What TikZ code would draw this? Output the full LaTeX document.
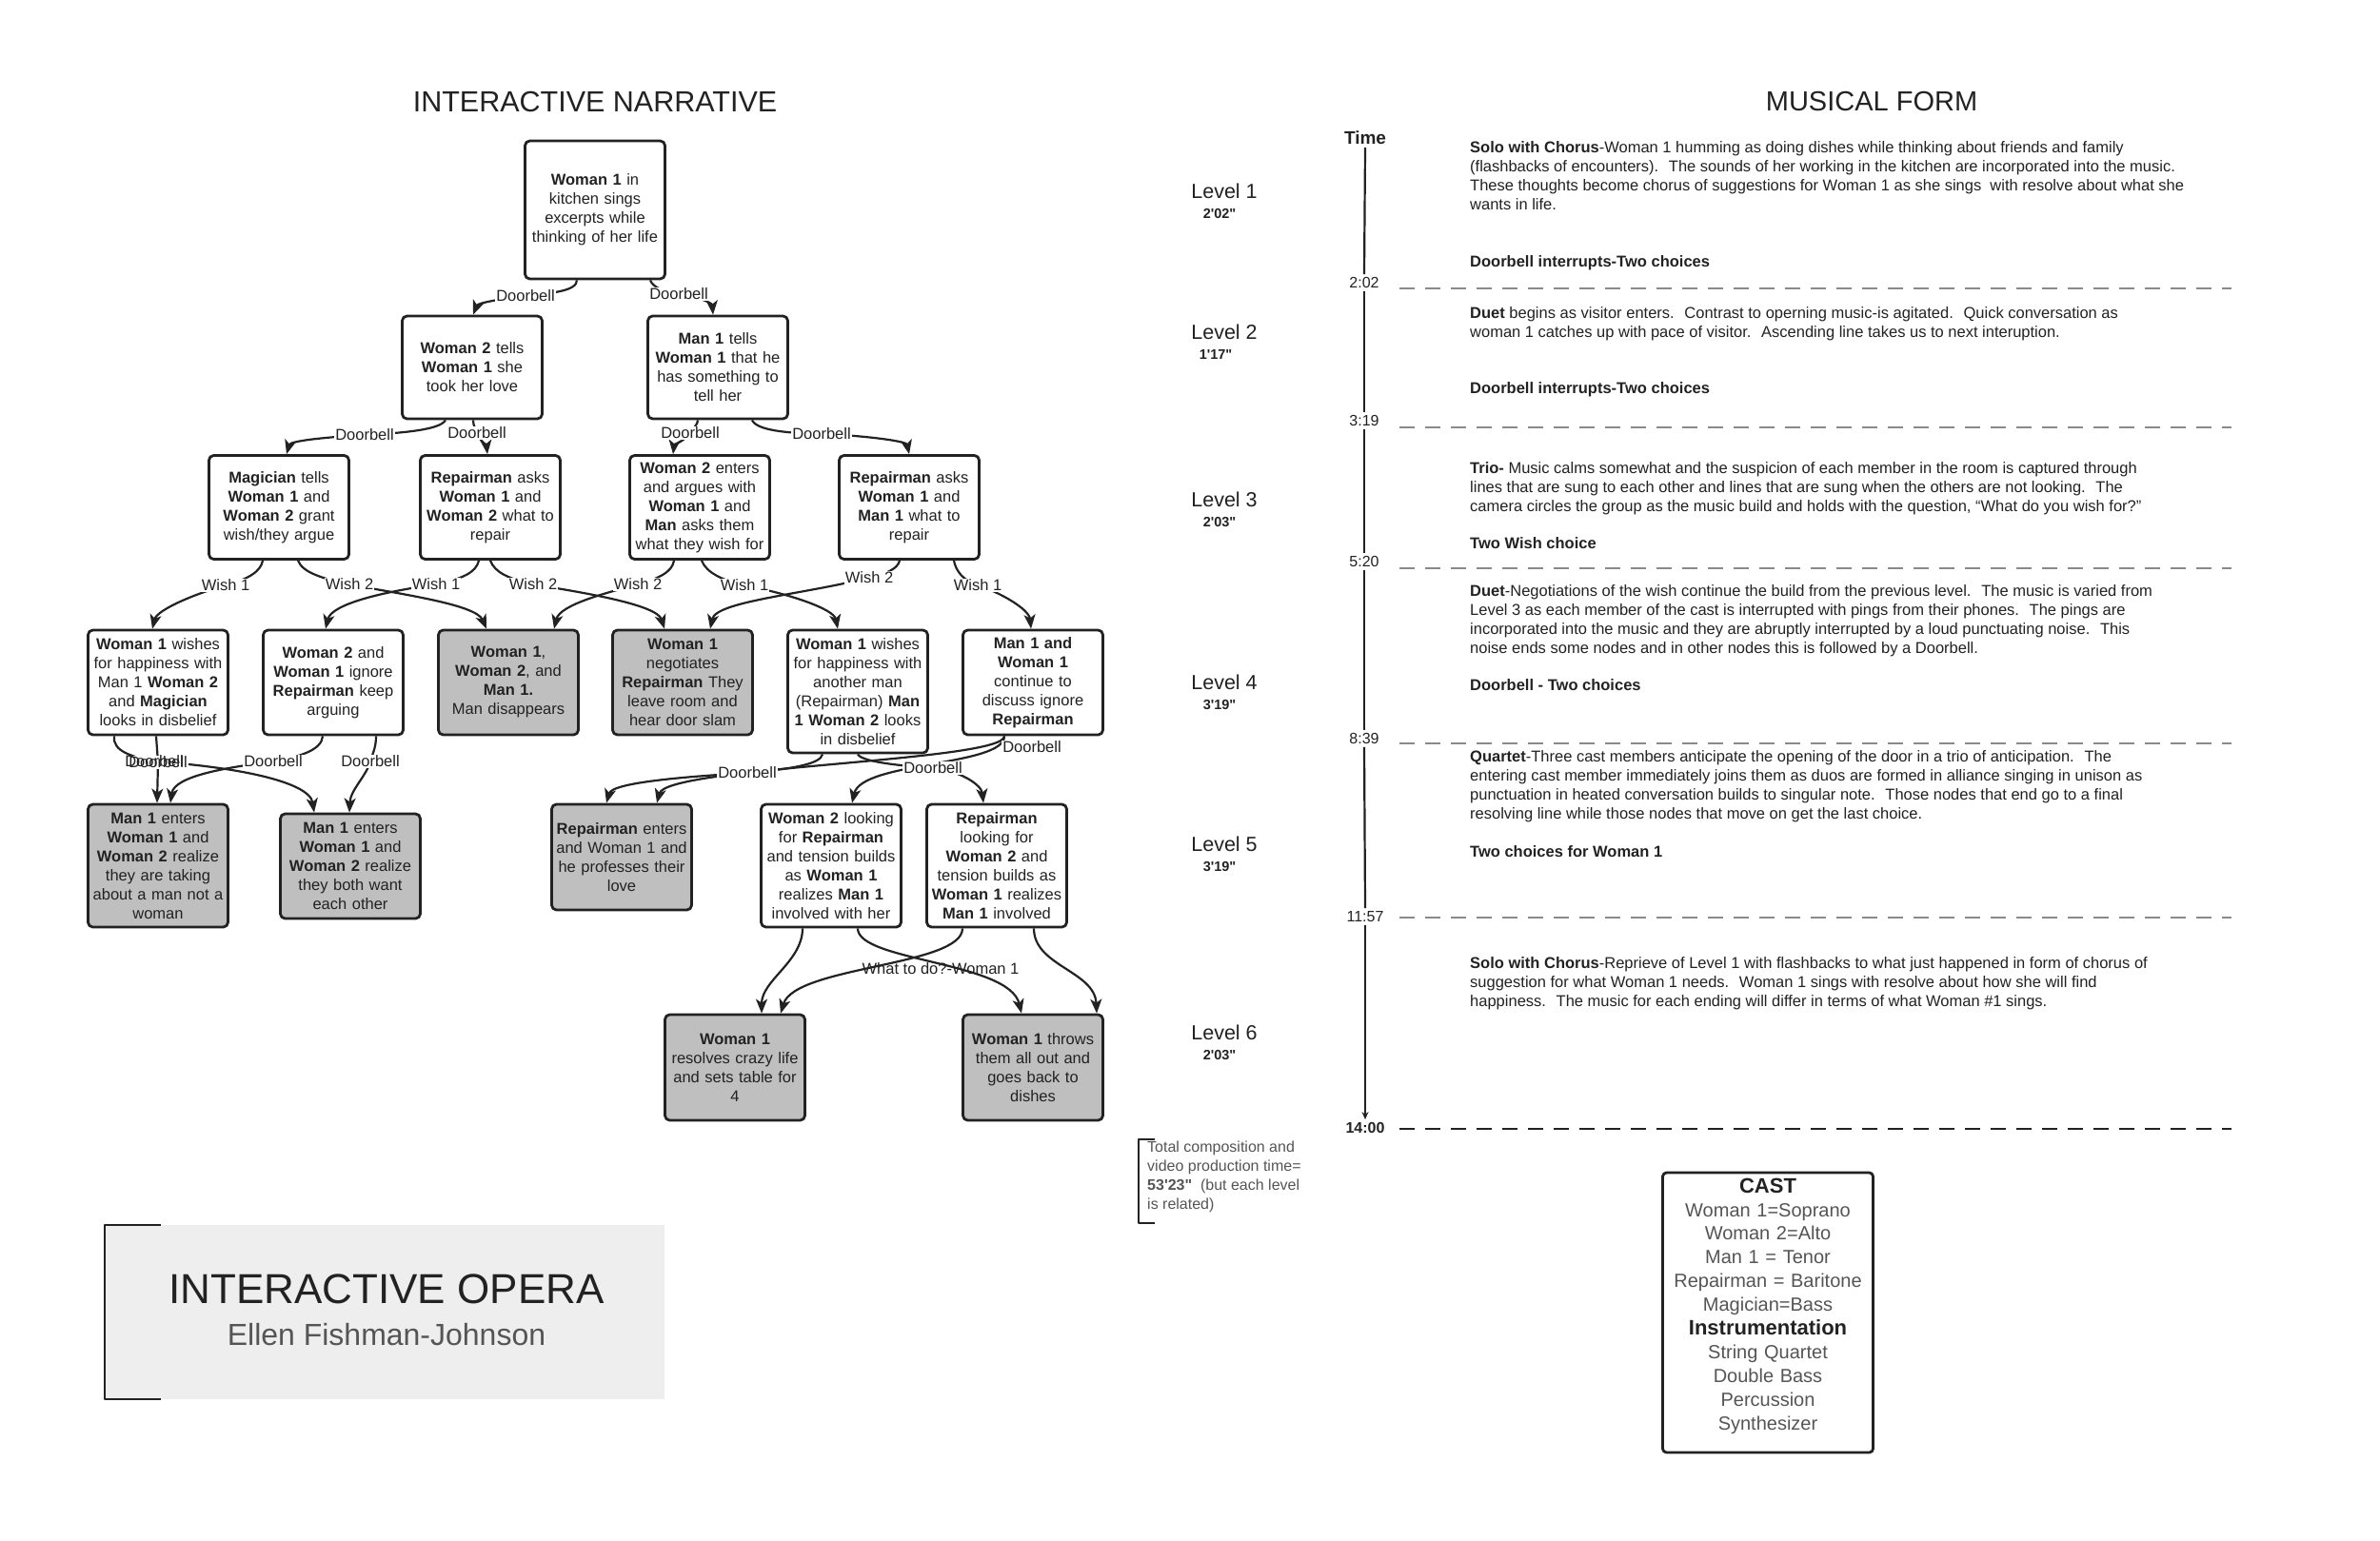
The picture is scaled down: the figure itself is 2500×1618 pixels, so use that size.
\documentclass[tikz,border=0pt]{standalone}
\usepackage{fontspec}
\setmainfont{Liberation Sans}
\newfontfamily\lsans{Liberation Sans}
\usetikzlibrary{arrows.meta}
\definecolor{ink}{HTML}{222222}
\definecolor{boxgray}{HTML}{BFBFBF}
\definecolor{titlegray}{HTML}{EEEEEE}
\definecolor{txtgray}{HTML}{555555}
\definecolor{dashgray}{HTML}{8A8A8A}
\begin{document}
\begin{tikzpicture}[x=1pt,y=-1pt,line join=round,
  nb/.style={draw=ink, line width=2.8pt, rounded corners=5pt, fill=white, align=center,
    text width=145pt, minimum width=147pt, inner sep=0pt,
    font=\lsans\fontsize{16.5}{20}\selectfont, text=ink},
  gb/.style={nb, fill=boxgray},
  edge/.style={draw=ink, line width=2.2pt, -{Stealth[length=15pt,width=12pt,inset=4pt]}},
  elab/.style={fill=white, inner sep=1pt, font=\lsans\fontsize{16.5}{20}\selectfont, text=ink},
  elabclear/.style={inner sep=1pt, font=\lsans\fontsize{16.5}{20}\selectfont, text=ink},
  mtext/.style={anchor=north west, align=left, inner sep=0pt, font=\lsans\fontsize{16.5}{20}\selectfont, text=ink},
  mhead/.style={anchor=base west, inner sep=0pt, font=\lsans\bfseries\fontsize{16.5}{20}\selectfont, text=ink},
  tlab/.style={inner sep=3pt, font=\lsans\fontsize{16}{19}\selectfont, text=ink},
  lvl/.style={inner sep=0pt, font=\lsans\fontsize{21.5}{24}\selectfont, text=ink},
  lvt/.style={inner sep=0pt, font=\lsans\bfseries\fontsize{14.5}{16}\selectfont, text=ink},
  dashline/.style={draw=dashgray, line width=2.2pt, dash pattern=on 16pt off 11pt},
  heading/.style={inner sep=0pt, font=\lsans\fontsize{30.5}{35}\selectfont, text=ink}
]
\useasboundingbox (0,0) rectangle (2500,1618);
\fill[white] (0,0) rectangle (2500,1618);

% ---------- headings ----------
\node[heading] (hn) at (625,107) {INTERACTIVE NARRATIVE};
\node[heading, font=\lsans\fontsize{29}{34}\selectfont] (hm) at (1966,107) {MUSICAL FORM};

% ---------- tree nodes ----------
\node[nb, minimum height=145pt] (N1) at (625,220.5) {\textbf{Woman 1} in\\kitchen sings\\excerpts while\\thinking of her life};

\node[nb, minimum height=108pt] (N2a) at (496,386) {\textbf{Woman 2} tells\\\textbf{Woman 1} she\\took her love};
\node[nb, minimum height=108pt] (N2b) at (754,386) {\textbf{Man 1} tells\\\textbf{Woman 1} that he\\has something to\\tell her};

\node[nb, minimum height=109pt] (N3a) at (293,533) {\textbf{Magician} tells\\\textbf{Woman 1} and\\\textbf{Woman 2} grant\\wish/they argue};
\node[nb, minimum height=109pt] (N3b) at (515,533) {\textbf{Repairman} asks\\\textbf{Woman 1} and\\\textbf{Woman 2} what to\\repair};
\node[nb, minimum height=109pt] (N3c) at (735,533) {\textbf{Woman 2} enters\\and argues with\\\textbf{Woman 1} and\\\textbf{Man} asks them\\what they wish for};
\node[nb, minimum height=109pt] (N3d) at (955,533) {\textbf{Repairman} asks\\\textbf{Woman 1} and\\\textbf{Man 1} what to\\repair};

\node[nb, minimum height=110pt] (N4a) at (166,717) {\textbf{Woman 1} wishes\\for happiness with\\Man 1 \textbf{Woman 2}\\and \textbf{Magician}\\looks in disbelief};
\node[nb, minimum height=110pt] (N4b) at (350,717) {\textbf{Woman 2} and\\\textbf{Woman 1} ignore\\\textbf{Repairman} keep\\arguing};
\node[gb, minimum height=110pt] (N4c) at (534,717) {\textbf{Woman 1},\\\textbf{Woman 2}, and\\\textbf{Man 1.}\\Man disappears};
\node[gb, minimum height=110pt] (N4d) at (717,717) {\textbf{Woman 1}\\negotiates\\\textbf{Repairman} They\\leave room and\\hear door slam};
\node[nb, minimum height=129pt] (N4e) at (901,726.5) {\textbf{Woman 1} wishes\\for happiness with\\another man\\(Repairman) \textbf{Man}\\\textbf{1 Woman 2} looks\\in disbelief};
\node[nb, minimum height=110pt] (N4f) at (1085,717) {\textbf{Man 1 and}\\\textbf{Woman 1}\\continue to\\discuss ignore\\\textbf{Repairman}};

\node[gb, minimum height=129pt] (N5a) at (166,909.5) {\textbf{Man 1} enters\\\textbf{Woman 1} and\\\textbf{Woman 2} realize\\they are taking\\about a man not a\\woman};
\node[gb, minimum height=110pt] (N5b) at (368,910) {\textbf{Man 1} enters\\\textbf{Woman 1} and\\\textbf{Woman 2} realize\\they both want\\each other};
\node[gb, minimum height=111pt] (N5c) at (653,900.5) {\textbf{Repairman} enters\\and Woman 1 and\\he professes their\\love};
\node[nb, minimum height=129pt] (N5d) at (873,909.5) {\textbf{Woman 2} looking\\for \textbf{Repairman}\\and tension builds\\as \textbf{Woman 1}\\realizes \textbf{Man 1}\\involved with her};
\node[nb, minimum height=129pt] (N5e) at (1047,909.5) {\textbf{Repairman}\\looking for\\\textbf{Woman 2} and\\tension builds as\\\textbf{Woman 1} realizes\\\textbf{Man 1} involved};

\node[gb, minimum height=111pt] (N6a) at (772,1121.5) {\textbf{Woman 1}\\resolves crazy life\\and sets table for\\4};
\node[gb, minimum height=111pt] (N6b) at (1085,1121.5) {\textbf{Woman 1} throws\\them all out and\\goes back to\\dishes};

% ---------- label positions ----------
\coordinate (l1) at (552,311);
\coordinate (l2) at (713,309);
\coordinate (l3) at (383,457);
\coordinate (l4) at (501,455);
\coordinate (l5) at (725,455);
\coordinate (l6) at (863,456);
\coordinate (l7) at (237,615);
\coordinate (l8) at (367,614);
\coordinate (l9) at (458,614);
\coordinate (l10) at (560,614);
\coordinate (l11) at (670,614);
\coordinate (l12) at (782,615);
\coordinate (l13) at (913,607);
\coordinate (l14) at (1027,615);
\coordinate (l15) at (166,801);
\coordinate (l16) at (162,800);
\coordinate (l17) at (287,800);
\coordinate (l18) at (389,800);
\coordinate (l19) at (785,812);
\coordinate (l20) at (1084,785);
\coordinate (l21) at (980,807);
\coordinate (lw) at (988,1018);

% ---------- edges ----------
\draw[edge] ([xshift=-19pt]N1.south) .. controls (606,306) and (578,308) .. (l1) .. controls (527,314) and (502,318) .. ([xshift=1pt]N2a.north);
\draw[edge] ([xshift=58pt]N1.south) .. controls (686,302) and (698,307) .. (l2) .. controls (730,311) and (748,318) .. ([xshift=-5pt]N2b.north);

\draw[edge] ([xshift=-28pt]N2a.south) .. controls (462,452) and (420,455) .. (l3) .. controls (346,459) and (305,463) .. ([xshift=8pt]N3a.north);
\draw[edge] ([xshift=1pt]N2a.south) .. controls (497,448) and (500,450) .. (l4) .. controls (503,462) and (511,468) .. ([xshift=-3pt]N3b.north);
\draw[edge] ([xshift=-21pt]N2b.south) .. controls (733,446) and (728,450) .. (l5) .. controls (720,462) and (708,468) .. ([xshift=-28pt]N3c.north);
\draw[edge] ([xshift=36pt]N2b.south) .. controls (795,452) and (825,455) .. (l6) .. controls (900,457) and (952,463) .. (N3d.north);

\draw[edge] ([xshift=-17pt]N3a.south) .. controls (274,600) and (262,608) .. (l7) .. controls (210,622) and (165,640) .. ([xshift=-6pt]N4a.north);
\draw[edge] ([xshift=20pt]N3a.south) .. controls (318,602) and (340,608) .. (l8) .. controls (420,624) and (500,635) .. ([xshift=-23pt]N4c.north);
\draw[edge] ([xshift=-12pt]N3b.south) .. controls (500,602) and (485,608) .. (l9) .. controls (400,622) and (348,635) .. ([xshift=-8pt]N4b.north);
\draw[edge] (N3b.south) .. controls (520,602) and (535,608) .. (l10) .. controls (610,622) and (690,635) .. ([xshift=-19pt]N4d.north);
\draw[edge] ([xshift=-27pt]N3c.south) .. controls (706,602) and (690,608) .. (l11) .. controls (640,622) and (588,635) .. ([xshift=48pt]N4c.north);
\draw[edge] ([xshift=2pt]N3c.south) .. controls (742,602) and (760,610) .. (l12) .. controls (830,624) and (876,640) .. ([xshift=-21pt]N4e.north);
\draw[edge] ([xshift=-10pt]N3d.south) .. controls (943,598) and (930,603) .. (l13) .. controls (840,625) and (752,632) .. ([xshift=29pt]N4d.north);
\draw[edge] ([xshift=47pt]N3d.south) .. controls (1004,600) and (1012,610) .. (l14) .. controls (1050,622) and (1081,640) .. ([xshift=-2pt]N4f.north);

\draw[edge] ([xshift=-2pt]N4a.south) -- (l15) -- ([xshift=-1pt]N5a.north);
\draw[edge] ([xshift=-46pt]N4a.south) .. controls (118,790) and (140,795) .. (l16) .. controls (240,805) and (325,820) .. ([xshift=-38pt]N5b.north);
\draw[edge] ([xshift=-11pt]N4b.south) .. controls (338,788) and (315,795) .. (l17) .. controls (240,806) and (183,815) .. ([xshift=13pt]N5a.north);
\draw[edge] ([xshift=45pt]N4b.south) .. controls (395,785) and (392,790) .. (l18) .. controls (385,815) and (368,830) .. ([xshift=-1pt]N5b.north);
\draw[edge] ([xshift=-37pt]N4e.south) .. controls (862,803) and (830,808) .. (l19) .. controls (720,816) and (643,822) .. ([xshift=-16pt]N5c.north);
\draw[edge] ([xshift=-30pt]N4f.south) .. controls (1055,800) and (700,805) .. ([xshift=37pt]N5c.north);
\draw[edge] (N4e.south) .. controls (905,800) and (940,804) .. (l21) .. controls (1010,810) and (1031,825) .. ([xshift=-14pt]N5e.north);
\draw[edge] ([xshift=-30pt]N4f.south) .. controls (1055,805) and (905,800) .. ([xshift=22pt]N5d.north);

\draw[edge] ([xshift=-30pt]N5d.south) .. controls (843,1010) and (800,1030) .. ([xshift=28pt]N6a.north);
\draw[edge] ([xshift=28pt]N5d.south) .. controls (901,1010) and (1060,1010) .. ([xshift=-12pt]N6b.north);
\draw[edge] ([xshift=-36pt]N5e.south) .. controls (1011,1015) and (835,1015) .. ([xshift=48pt]N6a.north);
\draw[edge] ([xshift=39pt]N5e.south) .. controls (1086,1015) and (1150,1020) .. ([xshift=67pt]N6b.north);

% ---------- edge labels ----------
\node[elab] (t1) at (l1) {Doorbell};
\node[elab] (t2) at (l2) {Doorbell};
\node[elab] (t3) at (l3) {Doorbell};
\node[elab] (t4) at (l4) {Doorbell};
\node[elab] (t5) at (l5) {Doorbell};
\node[elab] (t6) at (l6) {Doorbell};
\node[elab] (t7) at (l7) {Wish 1};
\node[elab] (t8) at (l8) {Wish 2};
\node[elab] (t9) at (l9) {Wish 1};
\node[elab] (t10) at (l10) {Wish 2};
\node[elab] (t11) at (l11) {Wish 2};
\node[elab] (t12) at (l12) {Wish 1};
\node[elab] (t13) at (l13) {Wish 2};
\node[elab] (t14) at (l14) {Wish 1};
\node[elab] (t15) at (l15) {Doorbell};
\node[elabclear] (t16) at (l16) {Doorbell};
\node[elab] (t17) at (l17) {Doorbell};
\node[elab] (t18) at (l18) {Doorbell};
\node[elab] (t19) at (l19) {Doorbell};
\node[elab] (t20) at (l20) {Doorbell};
\node[elab] (t21) at (l21) {Doorbell};
\node[elabclear] (tw) at (lw) {What to do?-Woman 1};

% ---------- levels ----------
\node[lvl] (lv1) at (1286,201) {Level 1};
\node[lvt] (lt1) at (1281,225) {2'02"};
\node[lvl] (lv2) at (1286,349) {Level 2};
\node[lvt] (lt2) at (1277,373) {1'17"};
\node[lvl] (lv3) at (1286,525) {Level 3};
\node[lvt] (lt3) at (1281,549) {2'03"};
\node[lvl] (lv4) at (1286,717) {Level 4};
\node[lvt] (lt4) at (1281,741) {3'19"};
\node[lvl] (lv5) at (1286,887) {Level 5};
\node[lvt] (lt5) at (1281,911) {3'19"};
\node[lvl] (lv6) at (1286,1085) {Level 6};
\node[lvt] (lt6) at (1281,1109) {2'03"};

\draw[ink, line width=2.2pt] (1213,1197) -- (1196,1197) -- (1196,1285) -- (1213,1285);
\node[anchor=north west, align=left, inner sep=0pt, font=\lsans\fontsize{16}{20}\selectfont, text=txtgray] (tot) at (1205,1199) {Total composition and\\video production time=\\\textbf{53'23"} \ (but each level\\is related)};

% ---------- timeline ----------
\node[tlab, font=\lsans\bfseries\fontsize{19}{22}\selectfont] (tm0) at (1434,145) {Time};
\node[tlab] (tm1) at (1433,297) {2:02};
\node[tlab] (tm2) at (1433,442) {3:19};
\node[tlab] (tm3) at (1433,590) {5:20};
\node[tlab] (tm4) at (1433,776) {8:39};
\node[tlab] (tm5) at (1434,963) {11:57};
\node[tlab, font=\lsans\bfseries\fontsize{16}{19}\selectfont] (tm6) at (1434,1185) {14:00};
\draw[ink, line width=2.2pt] (tm0.south) -- (tm1.north);
\draw[ink, line width=2.2pt] (tm1.south) -- (tm2.north);
\draw[ink, line width=2.2pt] (tm2.south) -- (tm3.north);
\draw[ink, line width=2.2pt] (tm3.south) -- (tm4.north);
\draw[ink, line width=2.2pt] (tm4.south) -- (tm5.north);
\draw[ink, line width=2.2pt, -{Stealth[length=8pt,width=7pt]}] (tm5.south) -- (tm6.north);

\draw[dashline] (1470,302.7) -- (2344,302.7);
\draw[dashline] (1470,449.3) -- (2344,449.3);
\draw[dashline] (1470,596.7) -- (2344,596.7);
\draw[dashline] (1470,781) -- (2344,781);
\draw[dashline] (1470,964.3) -- (2344,964.3);
\draw[dashline, draw=ink] (1470,1185.7) -- (2344,1185.7);

% ---------- musical form texts ----------
\node[mtext] (b1) at (1544,148) {\textbf{Solo with Chorus}-Woman 1 humming as doing dishes while thinking about friends and family\\(flashbacks of encounters). \ The sounds of her working in the kitchen are incorporated into the music.\\These thoughts become chorus of suggestions for Woman 1 as she sings \ with resolve about what she\\wants in life.};
\node[mhead] (b1h) at (1544,280) {Doorbell interrupts-Two choices};
\node[mtext] (b2) at (1544,322) {\textbf{Duet} begins as visitor enters. \ Contrast to operning music-is agitated. \ Quick conversation as\\woman 1 catches up with pace of visitor. \ Ascending line takes us to next interuption.};
\node[mhead] (b2h) at (1544,413) {Doorbell interrupts-Two choices};
\node[mtext] (b3) at (1544,485) {\textbf{Trio-} Music calms somewhat and the suspicion of each member in the room is captured through\\lines that are sung to each other and lines that are sung when the others are not looking. \ The\\camera circles the group as the music build and holds with the question, “What do you wish for?”};
\node[mhead] (b3h) at (1544,576) {Two Wish choice};
\node[mtext] (b4) at (1544,614) {\textbf{Duet}-Negotiations of the wish continue the build from the previous level. \ The music is varied from\\Level 3 as each member of the cast is interrupted with pings from their phones. \ The pings are\\incorporated into the music and they are abruptly interrupted by a loud punctuating noise. \ This\\noise ends some nodes and in other nodes this is followed by a Doorbell.};
\node[mhead] (b4h) at (1544,725) {Doorbell - Two choices};
\node[mtext] (b5) at (1544,788) {\textbf{Quartet}-Three cast members anticipate the opening of the door in a trio of anticipation. \ The\\entering cast member immediately joins them as duos are formed in alliance singing in unison as\\punctuation in heated conversation builds to singular note. \ Those nodes that end go to a final\\resolving line while those nodes that move on get the last choice.};
\node[mhead] (b5h) at (1544,900) {Two choices for Woman 1};
\node[mtext] (b6) at (1544,1005) {\textbf{Solo with Chorus}-Reprieve of Level 1 with flashbacks to what just happened in form of chorus of\\suggestion for what Woman 1 needs. \ Woman 1 sings with resolve about how she will find\\happiness. \ The music for each ending will differ in terms of what Woman \#1 sings.};

% ---------- cast ----------
\node[draw=ink, line width=2.8pt, rounded corners=4pt, minimum width=221pt, minimum height=294pt, inner sep=0pt] (cast) at (1857,1379) {};
\node[align=center, inner sep=0pt, text width=215pt, font=\lsans\fontsize{20}{24.9}\selectfont, text=txtgray] (castt) at (1857,1372) {{\color{ink}\bfseries\fontsize{22}{24.9}\selectfont CAST}\\Woman 1=Soprano\\Woman 2=Alto\\Man 1 = Tenor\\Repairman = Baritone\\Magician=Bass\\{\color{ink}\bfseries\fontsize{22}{24.9}\selectfont Instrumentation}\\String Quartet\\Double Bass\\Percussion\\Synthesizer};

% ---------- title box ----------
\node[fill=titlegray, inner sep=0pt, minimum width=588pt, minimum height=183pt] (tbox) at (404,1378.5) {};
\draw[ink, line width=2.5pt] (169,1287) -- (110,1287) -- (110,1470) -- (169,1470);
\node[inner sep=0pt, font=\lsans\fontsize{44}{50}\selectfont, text=ink] (op) at (406,1354) {INTERACTIVE OPERA};
\node[inner sep=0pt, font=\lsans\fontsize{32}{38}\selectfont, text=txtgray] (au) at (406,1402) {Ellen Fishman-Johnson};
\end{tikzpicture}
\end{document}
